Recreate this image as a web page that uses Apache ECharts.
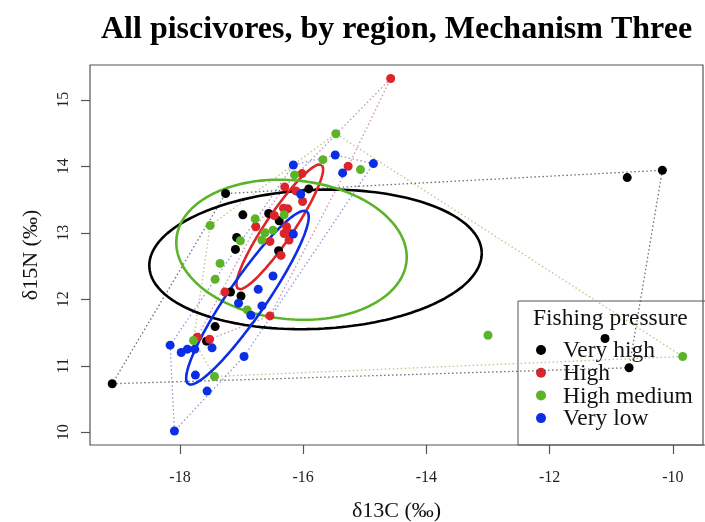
<!DOCTYPE html>
<html>
<head>
<meta charset="utf-8">
<script src="https://cdn.jsdelivr.net/npm/echarts@6/dist/echarts.min.js"></script>
<style>
  html, body { margin: 0; padding: 0; background: #fff; }
  #chart { width: 705px; height: 522px; }
</style>
</head>
<body>
<div id="chart"></div>
<script>
// Stable isotope values (d13C, d15N) of piscivores grouped by fishing pressure
const groupNames = ['Very high', 'High', 'High medium', 'Very low'];
const groupColors = ['#000000', '#DD2529', '#5BB328', '#0A2EE6'];
const hullColors = ['rgba(60,60,60,0.75)', 'rgba(160,70,120,0.6)', 'rgba(165,170,80,0.7)', 'rgba(70,80,190,0.6)'];

const veryHighC = [-19.10, -17.26, -10.17, -10.74, -10.71, -11.10, -15.91, -16.98, -16.56, -16.39, -17.08, -17.10, -16.40, -17.18, -17.01, -17.43, -17.57];
const veryHighN = [10.73, 13.59, 13.94, 13.83, 10.97, 11.41, 13.66, 13.27, 13.29, 13.18, 12.93, 12.75, 12.73, 12.11, 12.05, 11.59, 11.37];

const highC = [-14.58, -15.27, -16.02, -16.30, -16.12, -16.01, -16.47, -16.32, -16.25, -16.77, -16.27, -16.31, -16.21, -16.23, -16.54, -16.36, -17.27, -16.54, -17.72, -17.52];
const highN = [15.32, 14.00, 13.89, 13.69, 13.63, 13.47, 13.26, 13.37, 13.36, 13.09, 13.09, 12.99, 12.99, 12.89, 12.87, 12.66, 12.11, 11.75, 11.43, 11.40];

const highMediumC = [-15.47, -15.68, -16.14, -15.07, -16.78, -16.31, -17.51, -16.62, -16.49, -16.67, -17.02, -17.35, -17.43, -16.91, -17.78, -17.44, -13.00, -9.84];
const highMediumN = [14.49, 14.10, 13.87, 13.95, 13.21, 13.27, 13.11, 13.00, 13.04, 12.89, 12.88, 12.54, 12.30, 11.84, 11.38, 10.84, 11.46, 11.14];

const veryLowC = [-16.16, -15.48, -15.36, -14.86, -16.04, -16.16, -16.49, -16.73, -17.05, -16.67, -16.85, -18.16, -17.88, -17.98, -17.76, -17.48, -16.96, -17.75, -17.56, -18.09];
const veryLowN = [14.02, 14.17, 13.90, 14.04, 13.58, 12.98, 12.35, 12.15, 11.94, 11.90, 11.76, 11.31, 11.25, 11.20, 11.25, 11.27, 11.14, 10.86, 10.62, 10.02];

// Standard ellipse of each group: centre, semi-axes and orientation (data units)
const ellipseCentreC = [-15.80, -16.38, -16.19, -16.905];
const ellipseCentreN = [12.60, 13.09, 12.745, 12.025];
const ellipseSemiMajor = [2.70, 1.153, 1.875, 1.615];
const ellipseSemiMinor = [1.045, 0.22, 1.045, 0.30];
const ellipseAngle = [0.04, 0.939, -0.085, 0.930];

const xTicks = [-18, -16, -14, -12, -10];
const yTicks = [10, 11, 12, 13, 14, 15];

const groupC = [veryHighC, highC, highMediumC, veryLowC];
const groupN = [veryHighN, highN, highMediumN, veryLowN];

function pairs(cs, ns) { return cs.map((c, i) => [c, ns[i]]); }

// Convex hull (monotone chain), returned as a closed ring
function convexHull(pts) {
  const p = pts.slice().sort((a, b) => a[0] - b[0] || a[1] - b[1]);
  const cross = (o, a, b) => (a[0] - o[0]) * (b[1] - o[1]) - (a[1] - o[1]) * (b[0] - o[0]);
  const lower = [], upper = [];
  for (const q of p) {
    while (lower.length >= 2 && cross(lower[lower.length - 2], lower[lower.length - 1], q) <= 0) lower.pop();
    lower.push(q);
  }
  for (let i = p.length - 1; i >= 0; i--) {
    const q = p[i];
    while (upper.length >= 2 && cross(upper[upper.length - 2], upper[upper.length - 1], q) <= 0) upper.pop();
    upper.push(q);
  }
  upper.pop(); lower.pop();
  const ring = lower.concat(upper);
  ring.push(ring[0]);
  return ring;
}

// Outline of an ellipse from its parameters
function ellipseRing(g) {
  const out = [];
  const a = ellipseSemiMajor[g], b = ellipseSemiMinor[g], th = ellipseAngle[g];
  const n = 180;
  for (let k = 0; k <= n; k++) {
    const t = 2 * Math.PI * k / n;
    out.push([
      ellipseCentreC[g] + a * Math.cos(th) * Math.cos(t) - b * Math.sin(th) * Math.sin(t),
      ellipseCentreN[g] + a * Math.sin(th) * Math.cos(t) + b * Math.cos(th) * Math.sin(t)
    ]);
  }
  return out;
}

const series = [];
groupNames.forEach((name, g) => {
  series.push({
    type: 'line', name: name + ' hull', data: convexHull(pairs(groupC[g], groupN[g])),
    showSymbol: false, silent: true, z: 1,
    lineStyle: { color: hullColors[g], width: 1.3, type: [1.5, 2.5] }
  });
});
groupNames.forEach((name, g) => {
  series.push({
    type: 'line', name: name + ' ellipse', data: ellipseRing(g),
    showSymbol: false, silent: true, z: 2,
    lineStyle: { color: groupColors[g], width: 2.6 }
  });
});
groupNames.forEach((name, g) => {
  series.push({
    type: 'scatter', name: name, data: pairs(groupC[g], groupN[g]),
    symbol: 'circle', symbolSize: 9, z: 3,
    itemStyle: { color: groupColors[g], opacity: 1 }
  });
});

const serif = '"Liberation Serif", "Times New Roman", serif';

// Legend box in the lower-right corner of the plot
const legendTop = 301, legendLeft = 518, rowGap = 22.7;
const legendFont = '23.5px ' + serif;
const legendItems = [{
  type: 'rect', shape: { x: legendLeft, y: legendTop, width: 190, height: 144 },
  style: { fill: 'none', stroke: '#555', lineWidth: 1 }, z: 0
}, {
  type: 'text', x: 533, y: 319,
  style: { text: 'Fishing pressure', font: legendFont, fill: '#111', textVerticalAlign: 'middle' }, z: 0
}];
groupNames.forEach((name, g) => {
  const yy = 350 + g * rowGap;
  legendItems.push({ type: 'circle', shape: { cx: 541, cy: yy, r: 5 }, style: { fill: groupColors[g] }, z: 0 });
  legendItems.push({
    type: 'text', x: 563, y: yy + 1,
    style: { text: name, font: legendFont, fill: '#111', textVerticalAlign: 'middle' }, z: 0
  });
});

const chart = echarts.init(document.getElementById('chart'), null, { renderer: 'canvas' });
chart.setOption({
  animation: false,
  backgroundColor: '#fff',
  title: {
    text: 'All piscivores, by region, Mechanism Three',
    left: 96, top: 9,
    textStyle: { fontFamily: serif, fontSize: 32, fontWeight: 'bold', color: '#000' }
  },
  grid: {
    left: 90, top: 65, right: 2, bottom: 77, outerBoundsMode: 'none', containLabel: false,
    show: true, borderColor: '#555', borderWidth: 1.2, backgroundColor: 'transparent'
  },
  xAxis: {
    type: 'value', min: -19.461, max: -9.51,
    name: 'δ13C (‰)', nameLocation: 'middle', nameGap: 55,
    nameTextStyle: { fontFamily: serif, fontSize: 22, color: '#111' },
    axisLine: { show: false },
    axisTick: { show: true, customValues: xTicks, length: 9, lineStyle: { color: '#555', width: 1.2 } },
    axisLabel: { customValues: xTicks, margin: 25, fontFamily: serif, fontSize: 16, color: '#222', formatter: v => String(v) },
    splitLine: { show: false }
  },
  yAxis: {
    type: 'value', min: 9.809, max: 15.523,
    name: 'δ15N (‰)', nameLocation: 'middle', nameGap: 48, nameRotate: 90,
    nameTextStyle: { fontFamily: serif, fontSize: 22, color: '#111' },
    axisLine: { show: false },
    axisTick: { show: true, customValues: yTicks, length: 9, lineStyle: { color: '#555', width: 1.2 } },
    axisLabel: { customValues: yTicks, rotate: 90, margin: 18, fontFamily: serif, fontSize: 16, color: '#222', formatter: v => String(v) },
    splitLine: { show: false }
  },
  graphic: legendItems,
  series: series
});
</script>
</body>
</html>
